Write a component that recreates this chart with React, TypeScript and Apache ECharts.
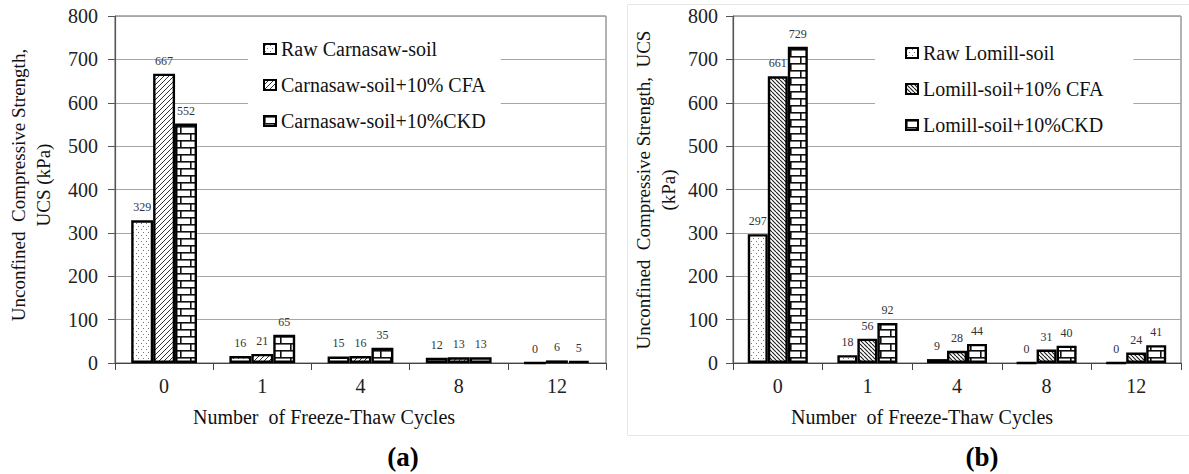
import React, { useEffect, useRef } from 'react';
import * as echarts from 'echarts';

const cycles = ['0', '1', '4', '8', '12'];
const carnasawNames = ['Raw Carnasaw-soil', 'Carnasaw-soil+10% CFA', 'Carnasaw-soil+10%CKD'];
const carnasawRaw = [329, 16, 15, 12, 0];
const carnasawCFA = [667, 21, 16, 13, 6];
const carnasawCKD = [552, 65, 35, 13, 5];
const lomillNames = ['Raw Lomill-soil', 'Lomill-soil+10% CFA', 'Lomill-soil+10%CKD'];
const lomillRaw = [297, 18, 9, 0, 0];
const lomillCFA = [661, 56, 28, 31, 24];
const lomillCKD = [729, 92, 44, 40, 41];
const yMin = 0;
const yMax = 800;
const yStep = 100;
const xTitle = 'Number  of Freeze-Thaw Cycles';
const yTitleA = 'Unconfined  Compressive Strength,\nUCS (kPa)';
const yTitleB = 'Unconfined  Compressive Strength,  UCS\n(kPa)';
const panelA = '(a)';
const panelB = '(b)';

const SERIF = 'Liberation Serif';

function tile(w: number, h: number, draw: (ctx: CanvasRenderingContext2D) => void) {
  const c = document.createElement('canvas');
  c.width = w;
  c.height = h;
  const ctx = c.getContext('2d') as CanvasRenderingContext2D;
  ctx.fillStyle = '#ffffff';
  ctx.fillRect(0, 0, w, h);
  draw(ctx);
  return { image: c, repeat: 'repeat', imageWidth: w, imageHeight: h };
}

function dots() {
  return tile(5, 6, (ctx) => {
    ctx.fillStyle = '#777';
    ctx.fillRect(1, 1, 1, 1);
    ctx.fillRect(3, 4, 1, 1);
  });
}

function diag(size: number, forward: boolean, color: string, lw: number) {
  return tile(size, size, (ctx) => {
    ctx.strokeStyle = color;
    ctx.lineWidth = lw;
    ctx.beginPath();
    for (let k = -1; k <= 1; k++) {
      if (forward) {
        ctx.moveTo(k * size, size);
        ctx.lineTo(k * size + size, 0);
      } else {
        ctx.moveTo(k * size, 0);
        ctx.lineTo(k * size + size, size);
      }
    }
    ctx.stroke();
  });
}

function bricks() {
  return tile(20, 14, (ctx) => {
    ctx.fillStyle = '#111';
    ctx.fillRect(0, 0, 20, 1.6);
    ctx.fillRect(0, 7, 20, 1.6);
    ctx.fillRect(0, 0, 1.6, 7);
    ctx.fillRect(10, 7, 1.6, 7);
  });
}

export default function App() {
  const ref = useRef<HTMLDivElement>(null);
  useEffect(() => {
    document.body.style.margin = '0';
    if (!ref.current) return;
    const chart = echarts.init(ref.current, undefined, { renderer: 'svg' });

    const bar = (name: string, data: number[], fill: any, idx: number) => ({
      type: 'bar',
      name,
      data,
      xAxisIndex: idx,
      yAxisIndex: idx,
      barGap: '0%',
      barCategoryGap: '33%',
      itemStyle: { color: fill, borderColor: '#000', borderWidth: 2.4 },
      label: {
        show: true,
        position: 'top',
        distance: 7,
        fontSize: 12,
        color: '#333333',
        textBorderWidth: 0,
        textBorderColor: 'transparent',
        fontFamily: SERIF,
      },
    });

    const xAxisBase = (gridIndex: number) => ({
      type: 'category',
      gridIndex,
      data: cycles,
      axisLine: { lineStyle: { color: '#444', width: 1.2 } },
      axisTick: { show: true, length: 7, lineStyle: { color: '#444' } },
      axisLabel: { fontFamily: SERIF, fontSize: 20, color: '#222', margin: 13 },
    });
    const yAxisBase = (gridIndex: number, margin: number) => ({
      type: 'value',
      gridIndex,
      min: yMin,
      max: yMax,
      interval: yStep,
      axisLine: { show: true, lineStyle: { color: '#555', width: 1.2 } },
      axisTick: { show: true, length: 7, lineStyle: { color: '#555' } },
      axisLabel: { fontFamily: SERIF, fontSize: 20, color: '#222', margin },
      splitLine: { show: true, lineStyle: { color: '#a6a6a6', width: 1 } },
    });

    const legendBase = {
      orient: 'vertical',
      icon: 'rect',
      itemWidth: 12,
      itemHeight: 10,
      itemGap: 16,
      backgroundColor: '#ffffff',
      selectedMode: false,
      textStyle: { fontFamily: SERIF, fontSize: 20, color: '#111', lineHeight: 20 },
    };

    const titleStyle = (text: string) => ({
      text,
      fontFamily: SERIF,
      fontSize: 19,
      fill: '#111',
      align: 'center',
      verticalAlign: 'middle',
      lineHeight: 25,
    });

    chart.setOption({
      animation: false,
      backgroundColor: '#ffffff',
      textStyle: { fontFamily: SERIF },
      grid: [
        { left: 115, right: 583, top: 16, bottom: 111, show: true, borderColor: '#666', borderWidth: 1, backgroundColor: 'transparent' },
        { left: 733, right: 8, top: 16, bottom: 111, show: true, borderColor: '#666', borderWidth: 1, backgroundColor: 'transparent' },
      ],
      xAxis: [xAxisBase(0), xAxisBase(1)],
      yAxis: [yAxisBase(0, 17), yAxisBase(1, 15)],
      legend: [
        { ...legendBase, data: carnasawNames, left: 248, top: 29, padding: [10, 15, 10, 15] },
        { ...legendBase, data: lomillNames, left: 875, top: 33, padding: [10, 30, 10, 30] },
      ],
      series: [
        bar(carnasawNames[0], carnasawRaw, dots(), 0),
        bar(carnasawNames[1], carnasawCFA, diag(5, true, '#333', 1), 0),
        bar(carnasawNames[2], carnasawCKD, bricks(), 0),
        bar(lomillNames[0], lomillRaw, dots(), 1),
        bar(lomillNames[1], lomillCFA, diag(4, false, '#222', 1.2), 1),
        bar(lomillNames[2], lomillCKD, bricks(), 1),
      ],
      graphic: [
        { type: 'rect', silent: true, z: -10, shape: { x: 627.5, y: 4.5, width: 570, height: 431 }, style: { fill: 'none', stroke: '#e6e6e6', lineWidth: 1 } },
        { type: 'text', x: 31, y: 185, rotation: Math.PI / 2, style: titleStyle(yTitleA) },
        { type: 'text', x: 656, y: 190, rotation: Math.PI / 2, style: titleStyle(yTitleB) },
        { type: 'text', x: 324, y: 417, style: { ...titleStyle(xTitle), fontSize: 20 } },
        { type: 'text', x: 922, y: 417, style: { ...titleStyle(xTitle), fontSize: 20 } },
        { type: 'text', x: 403, y: 457, style: { ...titleStyle(panelA), fontSize: 27, fontWeight: 'bold', fill: '#000' } },
        { type: 'text', x: 982, y: 457, style: { ...titleStyle(panelB), fontSize: 27, fontWeight: 'bold', fill: '#000' } },
      ],
    });
    return () => chart.dispose();
  }, []);
  return <div ref={ref} style={{ width: 1189, height: 474 }} />;
}
